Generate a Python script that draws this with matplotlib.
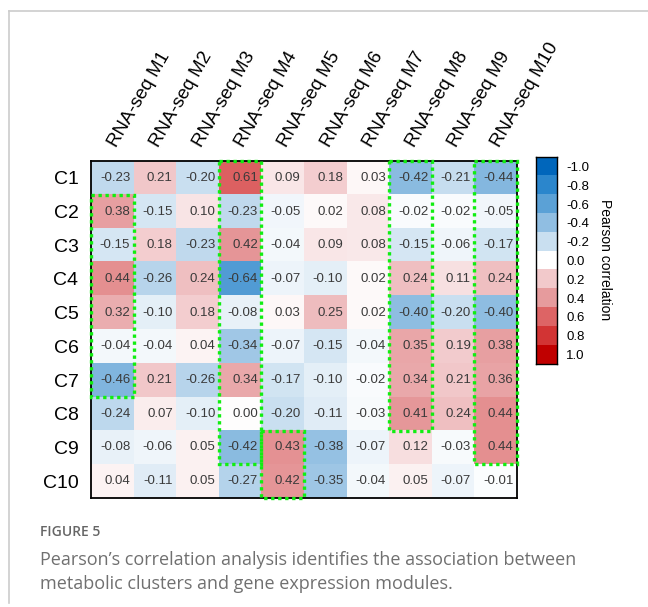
import numpy as np
import matplotlib.pyplot as plt
from matplotlib.colors import LinearSegmentedColormap, ListedColormap
from matplotlib.patches import Rectangle
from matplotlib.lines import Line2D

plt.rcParams['font.family'] = ['Liberation Sans', 'DejaVu Sans']

# data
clusters = ["C1", "C2", "C3", "C4", "C5", "C6", "C7", "C8", "C9", "C10"]
modules = ["RNA-seq M1", "RNA-seq M2", "RNA-seq M3", "RNA-seq M4", "RNA-seq M5",
           "RNA-seq M6", "RNA-seq M7", "RNA-seq M8", "RNA-seq M9", "RNA-seq M10"]
corr = np.array([
    [-0.23, 0.21, -0.20, 0.61, 0.09, 0.18, 0.03, -0.42, -0.21, -0.44],
    [0.38, -0.15, 0.10, -0.23, -0.05, 0.02, 0.08, -0.02, -0.02, -0.05],
    [-0.15, 0.18, -0.23, 0.42, -0.04, 0.09, 0.08, -0.15, -0.06, -0.17],
    [0.44, -0.26, 0.24, -0.64, -0.07, -0.10, 0.02, 0.24, 0.11, 0.24],
    [0.32, -0.10, 0.18, -0.08, 0.03, 0.25, 0.02, -0.40, -0.20, -0.40],
    [-0.04, -0.04, 0.04, -0.34, -0.07, -0.15, -0.04, 0.35, 0.19, 0.38],
    [-0.46, 0.21, -0.26, 0.34, -0.17, -0.10, -0.02, 0.34, 0.21, 0.36],
    [-0.24, 0.07, -0.10, 0.00, -0.20, -0.11, -0.03, 0.41, 0.24, 0.44],
    [-0.08, -0.06, 0.05, -0.42, 0.43, -0.38, -0.07, 0.12, -0.03, 0.44],
    [0.04, -0.11, 0.05, -0.27, 0.42, -0.35, -0.04, 0.05, -0.07, -0.01],
])
# highlighted blocks: (column, first row, last row)
boxes = [(0, 1, 6), (3, 0, 8), (4, 8, 9), (7, 0, 7), (9, 0, 8)]
cb_levels = [-1.0, -0.8, -0.6, -0.4, -0.2, 0.0, 0.2, 0.4, 0.6, 0.8, 1.0]

colors = ["#0066BB", "#2B86CC", "#5BA1D6", "#90BEE2", "#C9DFF0", "#FFFFFF",
          "#F2C9CB", "#E69B9D", "#DD6465", "#D23434", "#C00000"]
cmap = LinearSegmentedColormap.from_list("pc", colors)

fig = plt.figure(figsize=(6.48, 6.07), dpi=100)

# page frame
fig.add_artist(Line2D([9 / 648, 9 / 648], [1 - 11 / 607, 1 - 603 / 607], color="#cccccc", lw=1.2))
fig.add_artist(Line2D([9 / 648, 1], [1 - 11 / 607, 1 - 11 / 607], color="#cccccc", lw=1.2))

ax = fig.add_axes([0.1404, 0.1796, 0.6574, 0.5552])
ax.imshow(corr, cmap=cmap, vmin=-1, vmax=1, aspect="auto")
for i in range(corr.shape[0]):
    for j in range(corr.shape[1]):
        ax.text(j + 0.42, i, f"{corr[i, j]:.2f}", ha="right", va="center",
                fontsize=9.5, color="#3a3a3a")

for c, r0, r1 in boxes:
    ax.add_patch(Rectangle((c - 0.5, r0 - 0.5), 1, r1 - r0 + 1, fill=False,
                           edgecolor="#11ee11", lw=2.4, linestyle=(0, (1, 1.1)),
                           clip_on=False, zorder=5))

ax.set_xticks(range(len(modules)))
ax.set_yticks(range(len(clusters)))
ax.set_yticklabels(clusters, fontsize=14)
ax.xaxis.tick_top()
ax.set_xticklabels(modules, fontsize=13.5, rotation=60, ha="left", va="center",
                   rotation_mode="anchor")
ax.tick_params(length=0, pad=9)
ax.tick_params(axis="x", pad=11)
for s in ax.spines.values():
    s.set_linewidth(1.3)

# discrete colorbar
cax = fig.add_axes([0.8272, 0.4003, 0.0318, 0.3411])
cax.imshow(np.array(cb_levels).reshape(-1, 1), cmap=ListedColormap(colors),
           vmin=-1.1, vmax=1.1, aspect="auto")
cax.set_xticks([])
cax.yaxis.tick_right()
cax.set_yticks(range(len(cb_levels)))
cax.set_yticklabels([f"{v:.1f}" for v in cb_levels], fontsize=9.5)
cax.tick_params(length=0, pad=7)
for s in cax.spines.values():
    s.set_linewidth(1.0)
fig.text(605 / 648, 1 - 260 / 607, "Pearson correlation", rotation=270,
         ha="center", va="center", fontsize=10)

# caption
fig.text(40 / 648, 1 - 532 / 607, "FIGURE 5", fontsize=10, color="#666666",
         family="Open Sans", weight="semibold", va="center")
fig.text(40 / 648, 1 - 560 / 607, "Pearson\u2019s correlation analysis identifies the association between",
         fontsize=13, color="#707070", family="Open Sans", va="center")
fig.text(40 / 648, 1 - 584 / 607, "metabolic clusters and gene expression modules.",
         fontsize=13, color="#707070", family="Open Sans", va="center")

fig.savefig("out.png", dpi=100)
